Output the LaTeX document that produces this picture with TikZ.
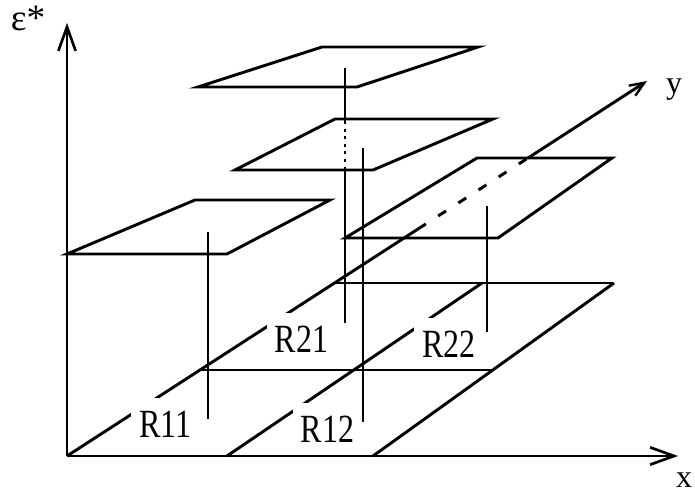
\documentclass[tikz,border=0pt]{standalone}
\usepackage{fontspec}
\usepackage{graphicx}
\setmainfont{Liberation Serif}
\usetikzlibrary{arrows.meta}
\begin{document}
\begin{tikzpicture}[x=0.75pt,y=-0.75pt,
  ln/.style={line width=2.2pt},
  axarrow/.style={ln,-{Straight Barb[length=18pt,width=13pt,line width=2pt]}},
  yarrow/.style={ln,-{Straight Barb[length=11pt,width=9pt,line width=1.8pt]}},
  hid/.style={ln,dash pattern=on 7pt off 11pt},
  dotl/.style={ln,dash pattern=on 2.2pt off 3.5pt},
  lbl/.style={fill=white,inner xsep=6pt,inner ysep=4pt,text height=25pt,text depth=0pt,anchor=base,font=\fontsize{30}{30}\selectfont},
  axlbl/.style={inner sep=0pt,font=\fontsize{24}{24}\selectfont}]
\useasboundingbox[fill=white] (0,0) rectangle (695,493);
% key points
\coordinate (O) at (67,456);
\coordinate (Ztip) at (67,23);
\coordinate (Xtip) at (678,456);
\coordinate (Ytip) at (647,81);
\coordinate (Ya) at (418,229);
\coordinate (Yb) at (528,158);
\coordinate (M1) at (200,370);
\coordinate (M2) at (494,370);
\coordinate (F1) at (335,283);
\coordinate (F2) at (613,283);
\coordinate (D1s) at (227,456);
\coordinate (D1e) at (482,283);
\coordinate (D2s) at (373,456);
\coordinate (D2e) at (614,283);
% axes
\draw[axarrow] (O) -- (Ztip);
\draw[axarrow] (O) -- (Xtip);
\draw[ln] (O) -- (Ya);
\draw[hid] (Ya) -- (Yb);
\draw[yarrow] (Yb) -- (Ytip);
% ground grid
\draw[ln] (M1) -- (M2);
\draw[ln] (F1) -- (F2);
\draw[ln] (D1s) -- (D1e);
\draw[ln] (D2s) -- (D2e);
% region labels
\node[lbl] (r11) at (165.5,437) {\scalebox{0.8}[1]{R11}};
\node[lbl] (r12) at (327.5,442) {\scalebox{0.8}[1]{R12}};
\node[lbl] (r21) at (301.5,352) {\scalebox{0.8}[1]{R21}};
\node[lbl] (r22) at (449,357) {\scalebox{0.8}[1]{R22}};
% axis labels
\node[axlbl] (eps) at (28,18) {\fontsize{28}{28}\selectfont ε*};
\node[axlbl] (ylab) at (674,90) {y};
\node[axlbl] (xlab) at (684,480) {x};
% poles
\coordinate (P11t) at (208,232); \coordinate (P11b) at (208,419);
\coordinate (P21t) at (345,68);  \coordinate (P21a) at (345,121);
\coordinate (P21c) at (345,168); \coordinate (P21b) at (345,323);
\coordinate (P12t) at (363,148); \coordinate (P12b) at (363,422);
\coordinate (P22t) at (487,206); \coordinate (P22b) at (487,332);
\draw[ln] (P11t) -- (P11b);
\draw[ln] (P21t) -- (P21a);
\draw[dotl] (P21a) -- (P21c);
\draw[ln] (P21c) -- (P21b);
\draw[ln] (P12t) -- (P12b);
\draw[ln] (P22t) -- (P22b);
% value planes
\draw[ln] (67,254) -- (227,254) -- (330,200) -- (195,200) -- cycle;
\draw[ln] (235,170) -- (373,170) -- (493,119) -- (335,119) -- cycle;
\draw[ln] (345,238) -- (498,238) -- (612,158) -- (477,158) -- cycle;
\draw[ln] (198,87) -- (357,87) -- (478,47) -- (322,47) -- cycle;
\end{tikzpicture}
\end{document}
